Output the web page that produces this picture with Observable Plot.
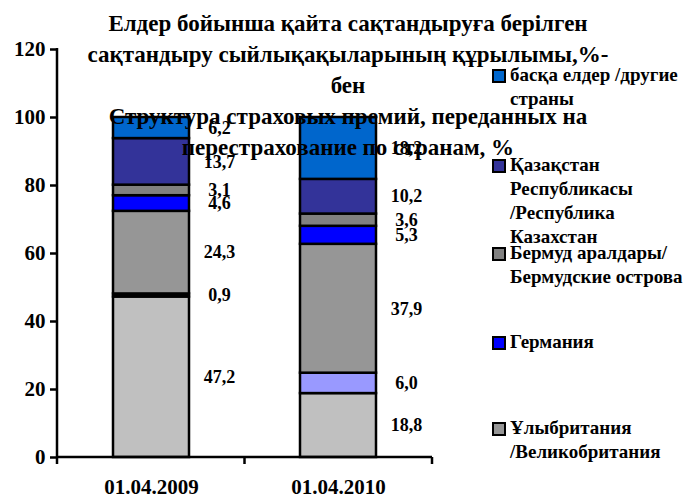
<!DOCTYPE html>
<html>
<head>
<meta charset="utf-8">
<script src="https://cdn.jsdelivr.net/npm/d3@7"></script>
<script src="https://cdn.jsdelivr.net/npm/@observablehq/plot@0.6"></script>
<style>
  body { margin: 0; background: #fff; }
  #wrap { position: relative; width: 686px; height: 499px; overflow: hidden;
          font-family: "Liberation Serif", "Times New Roman", serif; font-weight: bold; color: #000; }
  #chart { position: absolute; left: 0; top: 0; }
  #title { position: absolute; left: 0; top: 8px; width: 696px; text-align: center;
           font-size: 23px; line-height: 31px; white-space: pre-line; }
  .leg { position: absolute; left: 492px; font-size: 19px; line-height: 24px; white-space: pre-line;
         font-family: "Liberation Serif", "Times New Roman", serif; }
  .leg .sw { position: absolute; left: 0; top: 6px; width: 10px; height: 10px; border: 2px solid #000; }
  .leg .lb { margin-left: 18px; }
</style>
</head>
<body>
<div id="wrap">
  <div id="chart"></div>
  <div id="title"></div>
</div>
<script>
// ---- data ----
const dates = ["01.04.2009", "01.04.2010"];
// stacked segments, bottom to top
const segments = ["сегмент 1", "сегмент 2", "Ұлыбритания /Великобритания", "Германия",
                  "Бермуд аралдары/ Бермудские острова", "Қазақстан Республикасы /Республика Казахстан",
                  "басқа елдер /другие страны"];
const values2009 = [47.2, 0.9, 24.3, 4.6, 3.1, 13.7, 6.2];
const values2010 = [18.8, 6.0, 37.9, 5.3, 3.6, 10.2, 18.2];
const yTicks = [0, 20, 40, 60, 80, 100, 120];
const titleLines = ["Елдер бойынша қайта сақтандыруға берілген",
                    "сақтандыру сыйлықақыларының құрылымы,%-",
                    "бен",
                    "Структура страховых премий, переданных на",
                    "перестрахование по странам, %"];
const legendLabels = ["басқа елдер /другие\nстраны",
                      "Қазақстан\nРеспубликасы\n/Республика\nКазахстан",
                      "Бермуд аралдары/\nБермудские острова",
                      "Германия",
                      "Ұлыбритания\n/Великобритания"];

// ---- styles ----
const segColors = ["#C0C0C0", null, "#969696", "#0000FF", "#808080", "#333399", "#0066CC"];
const seg2Colors = ["#000000", "#9999FF"]; // per-date colour of segment 2
const legendColors = ["#0066CC", "#333399", "#808080", "#0000FF", "#969696"];
const legendTops = [63, 153, 241, 330, 416];
const serif = "'Liberation Serif', 'Times New Roman', serif";

const valuesByDate = [values2009, values2010];
const rows = [];
dates.forEach((date, i) => {
  segments.forEach((seg, j) => {
    rows.push({date, seg, value: valuesByDate[i][j], fill: j === 1 ? seg2Colors[i] : segColors[j]});
  });
});
const fmt = v => v.toFixed(1).replace(".", ",");

const axisLines = (index, scales, values, dims) => {
  const g = d3.create("svg:g").attr("stroke", "#000").attr("stroke-width", 2.5);
  const x0 = dims.marginLeft, x1 = dims.width - dims.marginRight;
  const y0 = dims.height - dims.marginBottom, yT = dims.marginTop;
  g.append("line").attr("x1", x0).attr("x2", x0).attr("y1", yT - 1).attr("y2", y0);
  g.append("line").attr("x1", x0).attr("x2", x1).attr("y1", y0).attr("y2", y0);
  const n = dates.length;
  for (let i = 0; i <= n; i++) {
    const x = x0 + i * (x1 - x0) / n;
    g.append("line").attr("x1", x).attr("x2", x).attr("y1", y0).attr("y2", y0 + 7);
  }
  return g.node();
};

const plot = Plot.plot({
  width: 686,
  height: 499,
  marginLeft: 57,
  marginRight: 254,
  marginTop: 49,
  marginBottom: 42,
  x: {domain: dates, paddingInner: 0.595, paddingOuter: 0.2975, axis: null},
  y: {domain: [0, 120], axis: null},
  color: {type: "identity"},
  style: {fontFamily: serif, fontWeight: "bold", color: "#000", background: "transparent"},
  marks: [
    Plot.barY(rows, {x: "date", y: "value", fill: "fill", stroke: "#000", strokeWidth: 2.5}),
    Plot.text(rows, Plot.stackY({x: "date", y: "value", text: d => fmt(d.value), dx: 68, fontSize: 18,
                                 fontFamily: serif, fontWeight: "bold", fill: "#000"})),
    Plot.axisY({ticks: yTicks, tickSize: 7, tickPadding: 5, fontSize: 21, strokeWidth: 2.5,
                tickFormat: d => String(d), label: null, fontFamily: serif, fontWeight: "bold"}),
    Plot.axisX({tickSize: 0, tickPadding: 22, fontSize: 21, label: null, fontFamily: serif, fontWeight: "bold"}),
    axisLines
  ]
});
document.getElementById("chart").appendChild(plot);

document.getElementById("title").textContent = titleLines.join("\n");

const wrap = document.getElementById("wrap");
legendLabels.forEach((lab, i) => {
  const d = document.createElement("div");
  d.className = "leg";
  d.style.top = legendTops[i] + "px";
  const sw = document.createElement("div");
  sw.className = "sw";
  sw.style.background = legendColors[i];
  const lb = document.createElement("div");
  lb.className = "lb";
  lb.textContent = lab;
  d.appendChild(sw);
  d.appendChild(lb);
  wrap.appendChild(d);
});
</script>
</body>
</html>
